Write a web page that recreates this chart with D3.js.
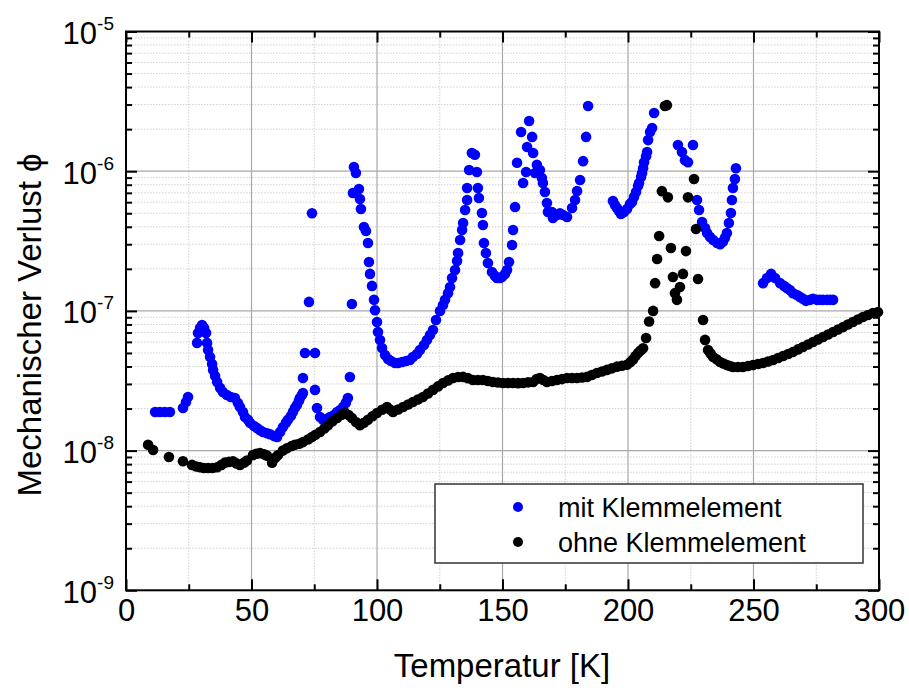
<!DOCTYPE html>
<html><head><meta charset="utf-8">
<script src="https://cdn.jsdelivr.net/npm/d3@7"></script>
<style>
body{margin:0;background:#fff;}
svg{display:block;font-family:"Liberation Sans",Arial,sans-serif;}
</style></head>
<body><svg id="c" width="909" height="688"></svg>
<script>
// ---- data ----
const seriesNames = ["mit Klemmelement", "ohne Klemmelement"];
const seriesColors = ["#0000ff", "#000000"];

const blueT = [11.6,13.5,15.5,17.5,22.7,23.9,24.7,28.3,28.7,29.5,30.3,31.1,31.9,32.3,32.7,33.5,34.3,34.7,35.5,36.3,37.5,38.6,40.2,41.8,43.4,44.6,45.4,46.6,47.4,48.6,49.4,51.0,52.2,53.4,54.6,56.2,57.4,59.0,60.2,61.4,62.5,63.7,64.5,65.7,66.5,67.3,68.1,68.9,69.3,70.1,70.5,70.5,71.3,75.3,72.9,74.1,75.3,76.1,77.3,78.5,80.1,81.3,82.9,84.1,85.3,86.5,87.6,88.4,89.2,90.0,90.8,91.6,90.4,92.8,93.2,93.6,94.8,95.6,96.4,96.8,97.2,98.0,98.8,99.2,100.0,100.4,101.2,102.0,103.2,104.4,105.6,107.2,108.4,110.0,111.6,113.1,114.3,115.9,117.1,118.7,119.9,121.1,122.3,123.5,125.1,126.3,127.1,128.3,129.1,129.9,131.1,131.9,132.3,133.1,133.9,134.3,135.1,135.9,135.9,136.7,137.8,139.0,139.8,140.2,140.6,141.8,142.2,142.6,143.4,144.2,145.8,147.0,147.8,149.0,149.8,151.0,151.8,152.6,153.8,154.2,155.0,155.8,157.4,158.2,159.4,159.8,160.6,161.8,162.2,163.0,163.7,164.9,165.7,166.1,166.9,167.7,168.1,169.7,170.1,171.7,172.9,174.1,175.7,177.7,178.9,179.7,180.9,182.1,183.3,184.1,194.0,194.8,195.6,196.4,197.2,198.4,199.6,200.8,201.6,202.4,203.2,204.0,204.4,205.2,205.6,206.0,206.4,207.2,207.6,208.0,208.8,209.6,210.4,219.9,221.5,222.7,223.9,225.9,227.5,228.3,229.5,230.7,231.5,232.7,233.9,235.5,236.7,237.8,238.6,239.4,240.2,241.0,241.4,241.8,242.6,243.0,253.8,255.4,257.0,258.6,260.6,262.2,263.3,264.5,265.7,267.3,268.5,269.7,270.9,272.5,273.7,275.3,276.5,277.7,279.3,280.5,281.7];
const bluePhi = [1.89e-8,1.89e-8,1.89e-8,1.89e-8,2.02e-8,2.23e-8,2.42e-8,5.9e-8,6.95e-8,7.55e-8,7.93e-8,7.55e-8,6.95e-8,5.9e-8,5.25e-8,4.68e-8,4.17e-8,3.78e-8,3.42e-8,3.10e-8,2.81e-8,2.63e-8,2.5e-8,2.42e-8,2.38e-8,2.19e-8,2.05e-8,1.89e-8,1.74e-8,1.66e-8,1.58e-8,1.50e-8,1.45e-8,1.40e-8,1.36e-8,1.33e-8,1.31e-8,1.27e-8,1.25e-8,1.36e-8,1.47e-8,1.58e-8,1.66e-8,1.77e-8,1.89e-8,2.02e-8,2.12e-8,2.27e-8,2.38e-8,2.50e-8,2.58e-8,3.31e-8,5.0e-8,5.0e-8,1.16e-7,5.0e-7,2.72e-8,2.02e-8,1.74e-8,1.66e-8,1.69e-8,1.74e-8,1.80e-8,1.89e-8,1.95e-8,2.05e-8,2.2e-8,2.38e-8,3.36e-8,1.12e-7,1.07e-6,9.7e-7,6.98e-7,7.46e-7,6.32e-7,5.36e-7,3.99e-7,3.73e-7,3.06e-7,2.24e-7,1.84e-7,1.51e-7,1.20e-7,1.01e-7,8.33e-8,7.06e-8,6.19e-8,5.43e-8,4.83e-8,4.53e-8,4.38e-8,4.24e-8,4.24e-8,4.31e-8,4.38e-8,4.45e-8,4.68e-8,4.91e-8,5.25e-8,5.70e-8,6.19e-8,6.72e-8,7.30e-8,8.6e-8,1.0e-7,1.10e-7,1.20e-7,1.34e-7,1.48e-7,1.72e-7,1.96e-7,2.28e-7,2.6e-7,3.22e-7,3.79e-7,4.26e-7,5.28e-7,6.22e-7,7.59e-7,1.02e-6,1.35e-6,1.31e-6,9.87e-7,7.59e-7,6.43e-7,5.02e-7,4.12e-7,3.06e-7,2.6e-7,2.2e-7,1.90e-7,1.78e-7,1.72e-7,1.72e-7,1.75e-7,1.84e-7,1.96e-7,2.24e-7,2.96e-7,3.79e-7,5.54e-7,1.15e-6,1.91e-6,8.24e-7,9.87e-7,1.49e-6,2.29e-6,1.76e-6,1.35e-6,9.7e-7,1.11e-6,1.02e-6,8.94e-7,8.24e-7,7.1e-7,5.92e-7,5.1e-7,5.1e-7,4.62e-7,4.86e-7,5.0e-7,4.86e-7,4.7e-7,5.45e-7,6.22e-7,7.21e-7,8.65e-7,1.18e-6,1.76e-6,2.93e-6,6.12e-7,5.73e-7,5.45e-7,5.19e-7,4.94e-7,5.1e-7,5.36e-7,5.82e-7,6.02e-7,6.53e-7,7.1e-7,7.84e-7,8.24e-7,9.1e-7,9.7e-7,1.05e-6,1.16e-6,1.28e-6,1.37e-6,1.67e-6,1.91e-6,2.04e-6,2.61e-6,1.54e-6,1.37e-6,1.20e-6,1.16e-6,1.54e-6,6.22e-7,5.28e-7,4.33e-7,3.92e-7,3.61e-7,3.38e-7,3.22e-7,3.06e-7,3.0e-7,3.13e-7,3.33e-7,3.61e-7,4.26e-7,5.02e-7,6.22e-7,7.59e-7,8.79e-7,1.05e-6,1.58e-7,1.72e-7,1.84e-7,1.72e-7,1.58e-7,1.51e-7,1.46e-7,1.41e-7,1.34e-7,1.30e-7,1.26e-7,1.22e-7,1.18e-7,1.20e-7,1.22e-7,1.20e-7,1.20e-7,1.20e-7,1.20e-7,1.20e-7,1.20e-7];

const blackT = [8.8,10.8,17.1,22.7,26.3,28,29.5,31,32.7,34.5,36.3,38,39.4,41,42.6,44,45.4,47,48.2,50.6,52,53.4,55,56.2,58.2,59.5,60.6,62.5,64.1,66,67.3,69,70.5,72.5,74.1,75.5,77.3,79,80.5,82.3,84.1,85.8,87.3,88.7,90.0,91.6,93.2,94.8,96.4,98.2,100.0,102,104.0,105.2,106.4,108.4,110.4,112.4,114.3,116.3,118.3,120.3,122.3,124.3,126.3,128.3,130.3,132.3,134.3,136.2,138.2,140.2,142.2,144.2,146.2,148.2,150.2,152.2,154.2,156.2,158.2,160.2,162.2,163.6,164.9,166.3,167.7,169.7,171.7,173.7,175.7,177.7,179.7,181.7,183.7,185.6,187.6,189.6,191.6,193.6,195.6,197.6,199.6,201,202.0,203,204.0,205,206.0,207.2,208.4,210.0,210.8,211.6,212.4,213.5,214.7,215.5,215.9,217.1,217.9,218.7,219.5,220.7,221.9,223.1,223.9,226.3,227.1,227.9,229.9,230.7,231.9,232.9,233.9,235.3,236.7,238,239.4,240.6,241.8,243.8,245.8,247.8,249.8,251.8,253.8,255.8,257.8,259.8,261.8,263.8,265.7,267.7,269.7,271.7,273.7,275.7,277.7,279.7,281.7,283.7,285.7,287.6,289.6,291.6,293.6,295.6,297.6,299.6];
const blackPhi = [1.10e-8,1.01e-8,9.0e-9,8.4e-9,7.9e-9,7.7e-9,7.6e-9,7.5e-9,7.5e-9,7.5e-9,7.6e-9,7.9e-9,8.2e-9,8.3e-9,8.4e-9,8.1e-9,7.9e-9,8.2e-9,8.5e-9,9.3e-9,9.5e-9,9.6e-9,9.4e-9,9.2e-9,8.2e-9,8.9e-9,9.3e-9,1.0e-8,1.04e-8,1.08e-8,1.10e-8,1.12e-8,1.15e-8,1.20e-8,1.25e-8,1.30e-8,1.36e-8,1.44e-8,1.52e-8,1.62e-8,1.71e-8,1.80e-8,1.86e-8,1.80e-8,1.71e-8,1.60e-8,1.52e-8,1.58e-8,1.66e-8,1.76e-8,1.86e-8,1.96e-8,2.05e-8,1.97e-8,1.89e-8,1.97e-8,2.05e-8,2.14e-8,2.23e-8,2.32e-8,2.42e-8,2.56e-8,2.72e-8,2.88e-8,3.05e-8,3.18e-8,3.31e-8,3.36e-8,3.37e-8,3.30e-8,3.20e-8,3.20e-8,3.20e-8,3.15e-8,3.10e-8,3.07e-8,3.05e-8,3.05e-8,3.05e-8,3.04e-8,3.05e-8,3.08e-8,3.10e-8,3.25e-8,3.31e-8,3.20e-8,3.10e-8,3.15e-8,3.20e-8,3.25e-8,3.31e-8,3.31e-8,3.31e-8,3.34e-8,3.37e-8,3.48e-8,3.59e-8,3.68e-8,3.78e-8,3.88e-8,3.99e-8,4.05e-8,4.12e-8,4.3e-8,4.49e-8,4.75e-8,5.0e-8,5.2e-8,5.4e-8,6.4e-8,8.4e-8,1.0e-7,1.58e-7,2.35e-7,3.44e-7,7.2e-7,2.93e-6,2.97e-6,6.5e-7,2.82e-7,1.75e-7,1.34e-7,1.20e-7,1.48e-7,1.84e-7,2.68e-7,6.5e-7,8.8e-7,3.86e-7,1.69e-7,8.6e-8,6.2e-8,5.25e-8,4.95e-8,4.68e-8,4.5e-8,4.31e-8,4.2e-8,4.10e-8,4.03e-8,3.97e-8,3.97e-8,3.97e-8,4.03e-8,4.10e-8,4.17e-8,4.24e-8,4.34e-8,4.45e-8,4.6e-8,4.76e-8,4.92e-8,5.08e-8,5.3e-8,5.52e-8,5.75e-8,5.99e-8,6.24e-8,6.5e-8,6.78e-8,7.06e-8,7.36e-8,7.67e-8,8.0e-8,8.33e-8,8.68e-8,9.04e-8,9.35e-8,9.66e-8,9.8e-8];

const xMajorTicks = [0,50,100,150,200,250,300];
const xMinorTicks = [25,75,125,175,225,275];
const yMajorTicks = [1e-9,1e-8,1e-7,1e-6,1e-5];
const yTickExponents = ["-9","-8","-7","-6","-5"];
const xTitle = "Temperatur [K]";
const yTitle = "Mechanischer Verlust \u03D5";

// ---- layout ----
const L = 126, R = 879, T = 31.5, B = 590.3;
const svg = d3.select("#c");
const x = d3.scaleLinear().domain([0,300]).range([L,R]);
const y = d3.scaleLog().domain([1e-9,1e-5]).range([B,T]);

const yMinorTicks = [];
for (let e=-9; e<-5; e++) for (let m=2; m<=9; m++) yMinorTicks.push(m*Math.pow(10,e));

// grid
const g = svg.append("g");
g.selectAll(".xm").data(xMinorTicks).join("line")
  .attr("x1",d=>x(d)).attr("x2",d=>x(d)).attr("y1",T).attr("y2",B)
  .attr("stroke","#d0d0d0").attr("stroke-width",1).attr("stroke-dasharray","1.5,1.5");
g.selectAll(".ym").data(yMinorTicks).join("line")
  .attr("x1",L).attr("x2",R).attr("y1",d=>y(d)).attr("y2",d=>y(d))
  .attr("stroke","#d0d0d0").attr("stroke-width",1).attr("stroke-dasharray","1.5,1.5");
g.selectAll(".xM").data(xMajorTicks.slice(1,-1)).join("line")
  .attr("x1",d=>x(d)).attr("x2",d=>x(d)).attr("y1",T).attr("y2",B)
  .attr("stroke","#a8a8a8").attr("stroke-width",1.2);
g.selectAll(".yM").data(yMajorTicks.slice(1,-1)).join("line")
  .attr("x1",L).attr("x2",R).attr("y1",d=>y(d)).attr("y2",d=>y(d))
  .attr("stroke","#a8a8a8").attr("stroke-width",1.2);

// data
const r = 5.3;
const blue = blueT.map((t,i)=>({t, p: bluePhi[i]}));
const black = blackT.map((t,i)=>({t, p: blackPhi[i]}));
svg.append("g").selectAll("circle").data(blue).join("circle")
  .attr("cx",d=>x(d.t)).attr("cy",d=>y(d.p)).attr("r",r).attr("fill",seriesColors[0]);
svg.append("g").selectAll("circle").data(black).join("circle")
  .attr("cx",d=>x(d.t)).attr("cy",d=>y(d.p)).attr("r",r).attr("fill",seriesColors[1]);

// axes (inward ticks)
function styleAxis(sel){
  sel.selectAll("path.domain").remove();
  sel.selectAll("line").attr("stroke","#000").attr("stroke-width",2);
}
const fs = 31;
const bx = svg.append("g").attr("transform",`translate(0,${B})`)
  .call(d3.axisBottom(x).tickValues(xMajorTicks).tickSize(-11).tickPadding(9).tickFormat(d3.format("d")));
styleAxis(bx);
bx.selectAll("text").attr("font-size",fs).attr("fill","#000").attr("font-family","Liberation Sans, Arial, sans-serif");
const bxm = svg.append("g").attr("transform",`translate(0,${B})`)
  .call(d3.axisBottom(x).tickValues(xMinorTicks).tickSize(-6).tickFormat(""));
styleAxis(bxm);
const tx = svg.append("g").attr("transform",`translate(0,${T})`)
  .call(d3.axisTop(x).tickValues(xMajorTicks).tickSize(-11).tickFormat(""));
styleAxis(tx);
const txm = svg.append("g").attr("transform",`translate(0,${T})`)
  .call(d3.axisTop(x).tickValues(xMinorTicks).tickSize(-6).tickFormat(""));
styleAxis(txm);
const ly = svg.append("g").attr("transform",`translate(${L},0)`)
  .call(d3.axisLeft(y).tickValues(yMajorTicks).tickSize(-11).tickFormat(""));
styleAxis(ly);
const lym = svg.append("g").attr("transform",`translate(${L},0)`)
  .call(d3.axisLeft(y).tickValues(yMinorTicks).tickSize(-6).tickFormat(""));
styleAxis(lym);
const ry = svg.append("g").attr("transform",`translate(${R},0)`)
  .call(d3.axisRight(y).tickValues(yMajorTicks).tickSize(-11).tickFormat(""));
styleAxis(ry);
const rym = svg.append("g").attr("transform",`translate(${R},0)`)
  .call(d3.axisRight(y).tickValues(yMinorTicks).tickSize(-6).tickFormat(""));
styleAxis(rym);

// frame
svg.append("rect").attr("x",L).attr("y",T).attr("width",R-L).attr("height",B-T)
  .attr("fill","none").attr("stroke","#000").attr("stroke-width",2);

// y tick labels with superscripts
const yl = svg.append("g").selectAll("text").data(yMajorTicks).join("text")
  .attr("x",114).attr("y",d=>y(d)+12.5).attr("text-anchor","end")
  .attr("font-size",fs).attr("fill","#000");
yl.append("tspan").text("10");
yl.append("tspan").attr("font-size",19).attr("dy",-14).text((d,i)=>yTickExponents[i]);

// titles
svg.append("text").attr("x",502).attr("y",677).attr("text-anchor","middle")
  .attr("font-size",33).attr("fill","#000").text(xTitle);
svg.append("text").attr("transform","translate(41,325) rotate(-90)").attr("text-anchor","middle")
  .attr("font-size",33).attr("fill","#000").text(yTitle);

// legend
svg.append("rect").attr("x",435).attr("y",484).attr("width",428).attr("height",79)
  .attr("fill","#fff").attr("stroke","#333").attr("stroke-width",1.5);
const lg = svg.append("g").selectAll("g").data(seriesNames).join("g")
  .attr("transform",(d,i)=>`translate(0,${i*35})`);
lg.append("circle").attr("cx",518).attr("cy",507).attr("r",5).attr("fill",(d,i)=>seriesColors[i]);
lg.append("text").attr("x",558).attr("y",516.5).attr("font-size",27).attr("fill","#000").text(d=>d);
</script></body></html>
